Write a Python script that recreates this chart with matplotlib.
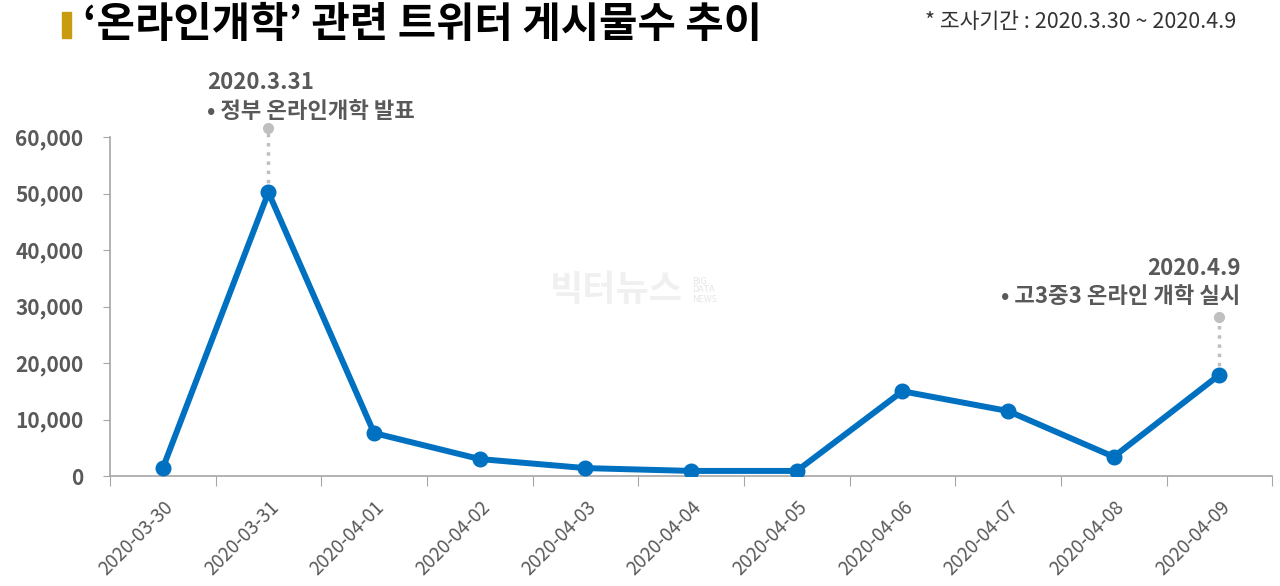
import matplotlib
matplotlib.use("Agg")
import matplotlib.pyplot as plt
from matplotlib.patches import Rectangle

plt.rcParams['font.family'] = ['Noto Sans CJK KR', 'DejaVu Sans']

dates = ['2020-03-30', '2020-03-31', '2020-04-01', '2020-04-02', '2020-04-03',
         '2020-04-04', '2020-04-05', '2020-04-06', '2020-04-07', '2020-04-08',
         '2020-04-09']
posts = [1400, 50200, 7600, 3000, 1400, 900, 900, 15000, 11500, 3400, 17900]
y_ticks = [0, 10000, 20000, 30000, 40000, 50000, 60000]

blue = '#0070C0'
gray = '#595959'
axis_gray = '#A6A6A6'

fig = plt.figure(figsize=(12.8, 5.86), dpi=100)
ax = fig.add_axes([0.0859, 0.1877, 0.908, 0.5785])

x = list(range(len(dates)))
ax.plot(x, posts, color=blue, lw=4.3, marker='o', ms=10.5, zorder=3)

ax.set_xlim(-0.5, len(dates) - 0.5)
ax.set_ylim(0, 60000)
ax.set_yticks(y_ticks)
ax.set_yticklabels(['{:,}'.format(v) for v in y_ticks], fontsize=15,
                   fontweight='bold', color=gray)

# category ticks between the labels
ax.set_xticks([i - 0.5 for i in range(len(dates) + 1)])
ax.set_xticklabels([])
ax.set_xticks(x, minor=True)
ax.set_xticklabels(dates, minor=True, rotation=45, ha='right',
                   rotation_mode='anchor', fontsize=13.5, color=gray)
ax.tick_params(axis='x', which='major', length=7, color=axis_gray)
ax.tick_params(axis='x', which='minor', length=0, pad=15)
ax.tick_params(axis='y', length=5, color=axis_gray, pad=14)

for s in ['top', 'right']:
    ax.spines[s].set_visible(False)
for s in ['left', 'bottom']:
    ax.spines[s].set_color(axis_gray)
    ax.spines[s].set_linewidth(1.2)

# annotations
ax.plot([1, 1], [posts[1], 61600], ls=':', color='#BFBFBF', lw=2.5,
        zorder=2, clip_on=False)
ax.plot(1, 61600, 'o', color='#BFBFBF', ms=7, clip_on=False)
ax.text(0.42, 69600, '2020.3.31', fontsize=16, fontweight='bold', color=gray,
        ha='left', va='center')
ax.text(0.42, 64600, '• 정부 온라인개학 발표', fontsize=16, fontweight='bold',
        color=gray, ha='left', va='center')

ax.plot([10, 10], [posts[10], 28100], ls=':', color='#BFBFBF', lw=2.5, zorder=2)
ax.plot(10, 28100, 'o', color='#BFBFBF', ms=7)
ax.text(10.2, 36800, '2020.4.9', fontsize=16, fontweight='bold', color=gray,
        ha='right', va='center')
ax.text(10.2, 31800, '• 고3중3 온라인 개학 실시', fontsize=16, fontweight='bold',
        color=gray, ha='right', va='center')

# watermark
fig.text(550 / 1280, 1 - 290 / 586, '빅터뉴스', fontsize=26, fontweight='bold',
         color='#F0F0F0', ha='left', va='center', zorder=0)
fig.text(692 / 1280, 1 - 290 / 586, 'BIG\nDATA\nNEWS', fontsize=6.5,
         color='#E6E6E6', ha='left', va='center', linespacing=1.0, zorder=0)

# title
fig.patches.append(Rectangle((62 / 1280, 1 - 38 / 586), 9 / 1280, 26 / 586,
                             transform=fig.transFigure, color='#C89B10'))
fig.text(83 / 1280, 1 - 25 / 586, '‘온라인개학’ 관련 트위터 게시물수 추이',
         fontsize=30, fontweight='bold', color='black', ha='left', va='center')
fig.text(1236 / 1280, 1 - 22 / 586, '* 조사기간 : 2020.3.30 ~ 2020.4.9',
         fontsize=15.5, color='#333333', ha='right', va='center')

fig.savefig('out.png', dpi=100)
